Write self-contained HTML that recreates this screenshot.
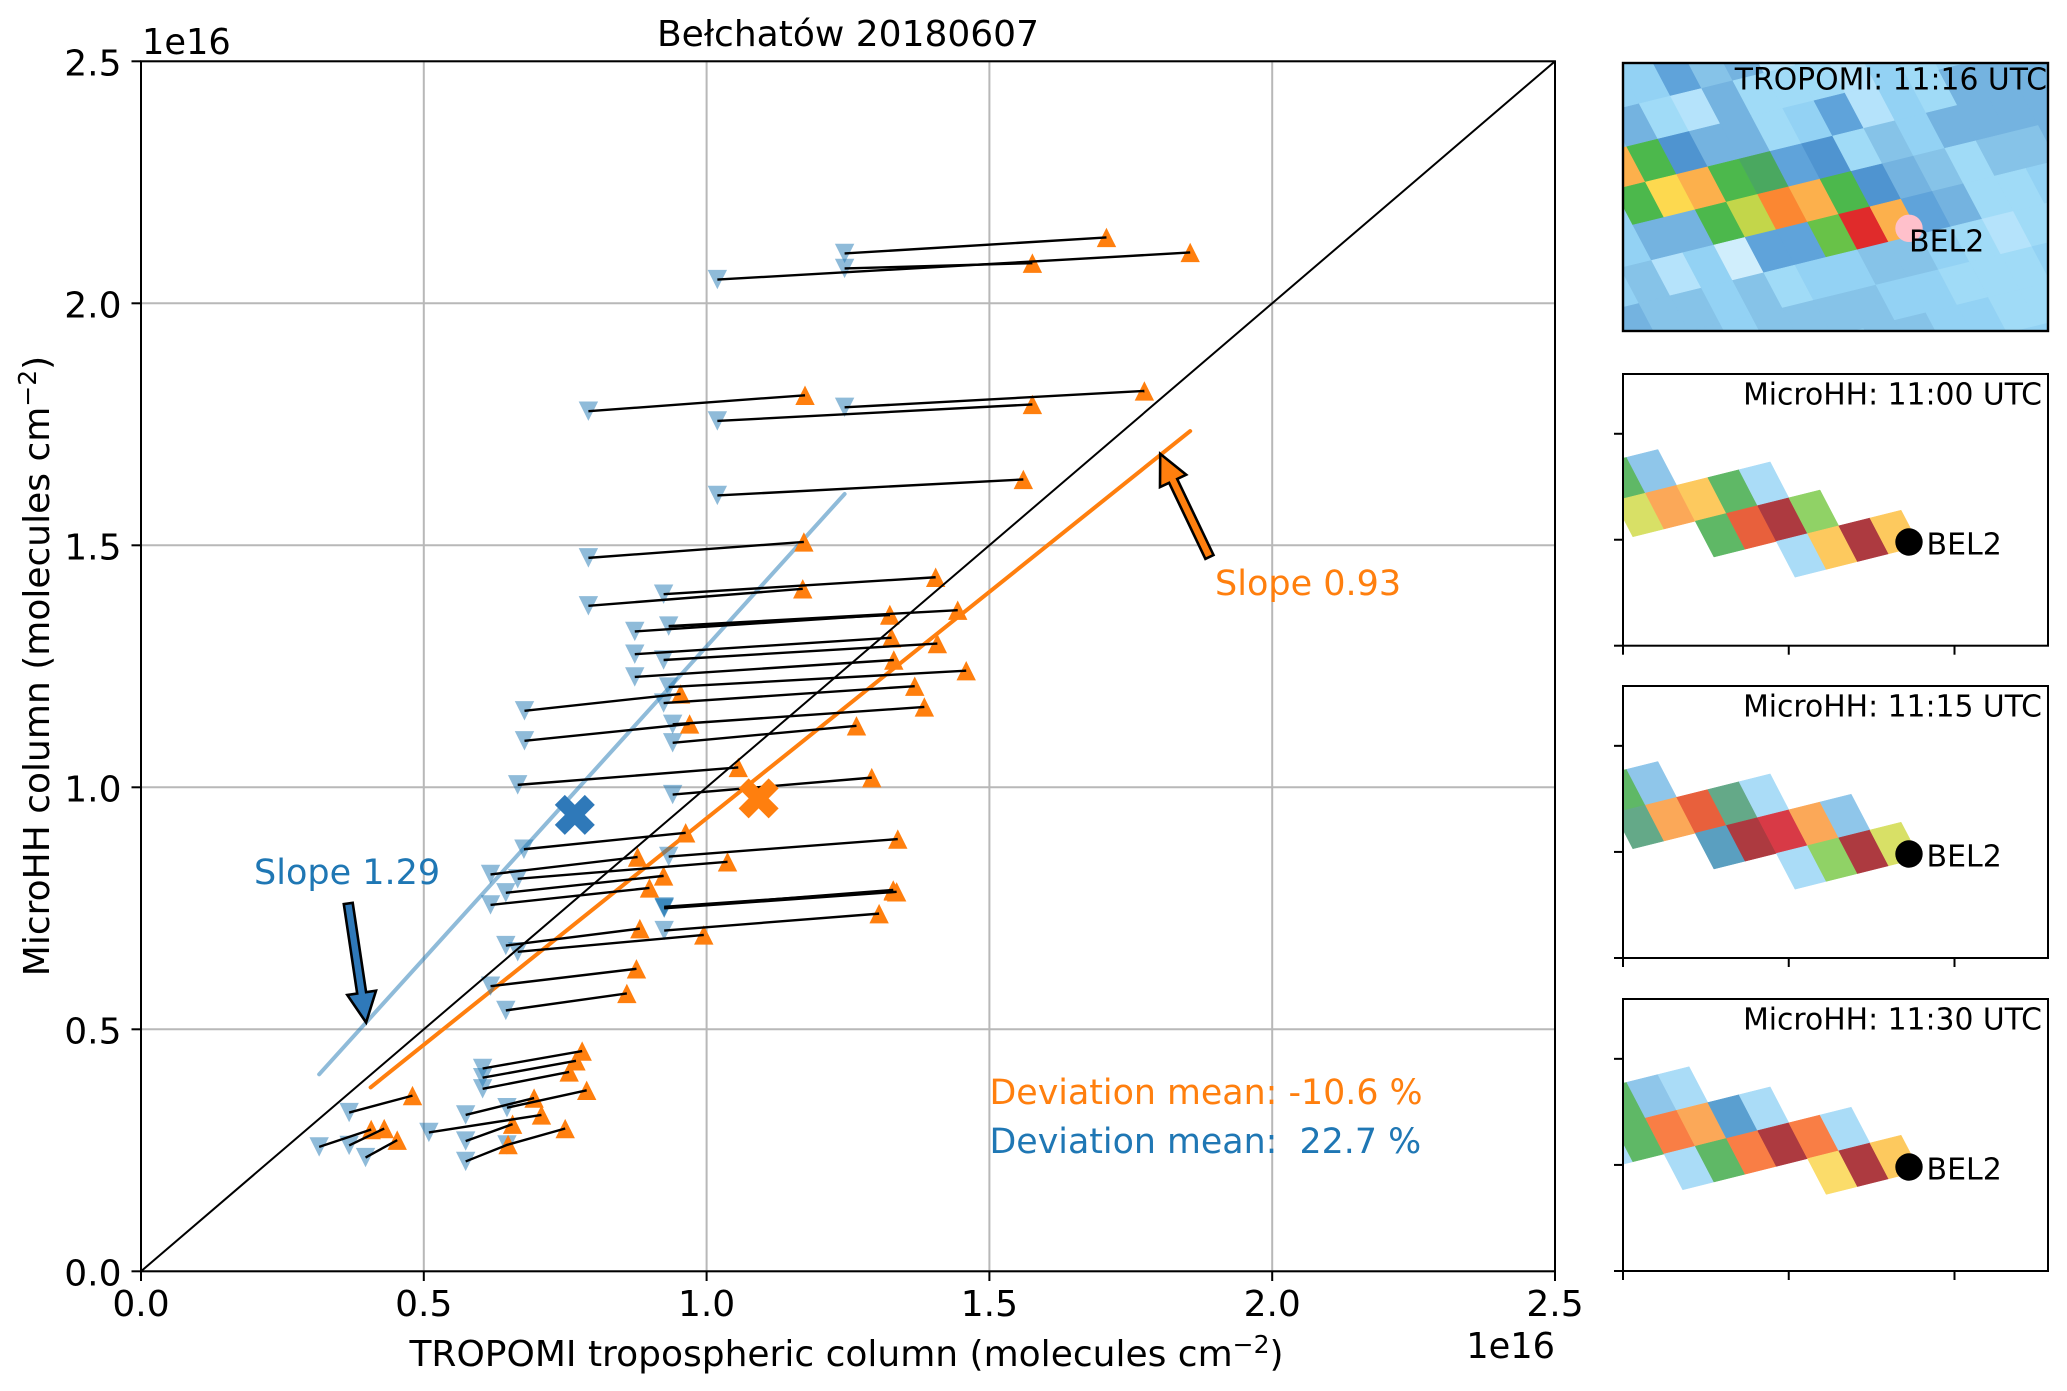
<!DOCTYPE html>
<html lang="en">
<head>
<meta charset="utf-8">
<title>Bełchatów 20180607</title>
<style>
html,body{margin:0;padding:0;background:#fff;}
svg{display:block;}
text{font-family:"DejaVu Sans","Liberation Sans",sans-serif;fill:#000;white-space:pre;}
</style>
</head>
<body>
<svg id="figure" xmlns="http://www.w3.org/2000/svg" width="2067" height="1391" viewBox="0 0 2067 1391">
  <defs>
    <clipPath id="main-clip"><rect x="141" y="61.3" width="1414" height="1210"/></clipPath>
    <clipPath id="clip-p0"><rect x="1623" y="63" width="425" height="268"/></clipPath>
    <clipPath id="clip-p1"><rect x="1623" y="374" width="425" height="271.7"/></clipPath>
    <clipPath id="clip-p2"><rect x="1623" y="686" width="425" height="272"/></clipPath>
    <clipPath id="clip-p3"><rect x="1623" y="999" width="425" height="272"/></clipPath>
  </defs>
  <g id="grid"></g>
  <g id="main-marks" clip-path="url(#main-clip)"></g>
  <rect x="141" y="61.3" width="1414" height="1210" fill="none" stroke="#000" stroke-width="2"/>
  <g id="ticks"></g>

  <text x="848" y="46" font-size="36" text-anchor="middle">Bełchatów 20180607</text>
  <text x="142" y="54" font-size="35.2">1e16</text>
  <text x="1555" y="1358" font-size="35.2" text-anchor="end">1e16</text>
  <text x="846.5" y="1366" font-size="36" text-anchor="middle">TROPOMI tropospheric column (molecules cm<tspan dy="-13" font-size="25">−2</tspan><tspan dy="13">)</tspan></text>
  <text transform="translate(49 666) rotate(-90)" font-size="36" text-anchor="middle">MicroHH column (molecules cm<tspan dy="-13" font-size="25">−2</tspan><tspan dy="13">)</tspan></text>

  <text x="254" y="884" font-size="35" style="fill:#1f77b4">Slope 1.29</text>
  <text x="1215" y="595" font-size="35" style="fill:#ff7f0e">Slope 0.93</text>
  <text x="989.5" y="1104" font-size="34.8" style="fill:#ff7f0e">Deviation mean: -10.6 %</text>
  <text x="989.5" y="1153" font-size="34.8" style="fill:#1f77b4">Deviation mean:  22.7 %</text>

  <g id="panels"></g>
</svg>

<script>
// ---------- main scatter data (units of 1e16 molecules cm-2) ----------
const tropomiBeforeX = [1.244,1.244,1.019,0.791,1.019,1.244,1.019,0.791,0.791,0.924,0.873,0.933,0.933,0.873,0.924,0.873,0.933,0.924,0.678,0.940,0.678,0.940,0.666,0.940,0.677,0.933,0.618,0.666,0.645,0.618,0.925,0.925,0.925,0.925,0.645,0.666,0.618,0.645,0.368,0.315,0.368,0.397,0.604,0.604,0.604,0.574,0.647,0.509,0.574,0.574,0.647];
const microhhBeforeY = [2.103,2.072,2.049,1.777,1.757,1.785,1.603,1.474,1.375,1.399,1.322,1.333,1.332,1.275,1.263,1.228,1.207,1.174,1.158,1.130,1.096,1.092,1.005,0.985,0.872,0.857,0.820,0.811,0.782,0.757,0.751,0.750,0.753,0.704,0.673,0.660,0.589,0.539,0.328,0.257,0.260,0.235,0.419,0.400,0.377,0.323,0.338,0.287,0.269,0.227,0.261];
const tropomiAfterX = [1.707,1.576,1.855,1.174,1.576,1.774,1.560,1.172,1.170,1.405,1.324,1.444,1.324,1.327,1.408,1.331,1.459,1.368,0.954,1.385,0.970,1.265,1.056,1.292,0.963,1.338,0.878,1.037,0.924,0.899,1.330,1.336,1.330,1.305,0.882,0.995,0.876,0.859,0.480,0.407,0.430,0.453,0.780,0.769,0.757,0.695,0.788,0.708,0.657,0.649,0.750];
const microhhAfterY = [2.136,2.083,2.105,1.810,1.791,1.819,1.636,1.507,1.410,1.434,1.357,1.366,1.356,1.309,1.297,1.263,1.241,1.209,1.193,1.166,1.131,1.127,1.041,1.020,0.906,0.893,0.856,0.846,0.817,0.792,0.788,0.784,0.786,0.739,0.708,0.695,0.625,0.574,0.363,0.293,0.295,0.271,0.455,0.435,0.412,0.358,0.374,0.323,0.304,0.262,0.295];
const sharedBeforeMarkers = [12];
const tickValues = [0,0.5,1,1.5,2,2.5];
const tickLabels = ['0.0','0.5','1.0','1.5','2.0','2.5'];
const identityLine = [0,2.5];
const fitBlueX = [0.315,1.244];
const fitBlueY = [0.407,1.606];
const fitOrangeX = [0.406,1.855];
const fitOrangeY = [0.380,1.736];
const meanBlue = [0.767,0.943];
const meanOrange = [1.092,0.977];
const arrowBlueTail = [0.3665,0.760];
const arrowBlueTip = [0.398,0.514];
const arrowOrangeTail = [1.889,1.476];
const arrowOrangeTip = [1.802,1.689];

// ---------- map panels: palette levels by lattice row / column ----------
const cellPalette = ['#d0eefc','#b5e3fb','#a0dbf7','#93d2f4','#86c3e8','#74b3e0','#5fa3da','#4f94d0','#68c248','#4cb84c','#4aa860','#c3d64a','#fdd94f','#fcb04c','#fb8732','#e02b2b','#aadcf7','#8fc6ea','#5a9fc0','#64a988','#5fb866','#90d266','#d8e066','#fbdc6a','#fdc95e','#fba858','#f97e45','#e8603c','#d83a46','#ad3a40','#5a9fd0'];
const _ = null;
// columns run i = -3..13, rows j = -2..6
const tropomiGrid = [
  [_,_,_,3,3,6,4,5,1,_,_,_,_,_,_,_,_],
  [_,_,4,5,2,1,5,2,2,2,1,3,2,_,_,_,_],
  [_,_,13,9,7,5,5,2,3,6,1,3,2,5,5,5,5],
  [_,_,9,12,13,9,10,6,7,2,4,3,5,5,5,5,5],
  [_,3,5,5,9,11,14,13,9,7,5,4,2,4,4,5,5],
  [_,4,1,3,0,6,6,8,15,13,6,5,2,2,3,3,3],
  [5,4,4,3,4,2,3,3,4,4,3,2,1,2,2,2,2],
  [4,4,4,3,4,4,4,4,3,3,2,2,2,3,3,3,3],
  [_,_,_,_,_,_,_,4,4,3,3,2,2,3,3,3,3]
];
// columns run i = -2..6, rows j = 0..3
const microhh1100 = [
  [_,20,17,_,_,_,_,_,_],
  [_,22,25,24,20,16,_,_,_],
  [_,_,_,20,27,29,21,_,_],
  [_,_,_,_,_,16,24,29,24]
];
const microhh1115 = [
  [_,20,17,_,_,_,_,_,_],
  [_,19,25,27,19,16,_,_,_],
  [_,_,_,18,29,28,25,17,_],
  [_,_,_,_,_,16,21,29,22]
];
const microhh1130 = [
  [_,20,17,16,_,_,_,_,_],
  [16,20,26,25,30,16,_,_,_],
  [_,_,16,20,26,29,26,16,_],
  [_,_,_,_,_,_,23,29,24]
];
const panelTickFractions = [0,0.39,0.78];
const panelXTickFractions = [0,0.39,0.78];

// ---------- scales ----------
const NS = 'http://www.w3.org/2000/svg';
const xScale = v => 141 + v * 565.6;
const yScale = v => 1271.3 - v * 484;

function make(tag, attrs, parent, txt) {
  const el = document.createElementNS(NS, tag);
  for (const k in attrs) el.setAttribute(k, attrs[k]);
  if (txt !== undefined) el.textContent = txt;
  parent.appendChild(el);
  return el;
}
const gridG = document.getElementById('grid');
const ticksG = document.getElementById('ticks');
const marks = document.getElementById('main-marks');
const panels = document.getElementById('panels');

// ---------- grid + ticks ----------
tickValues.forEach((v, i) => {
  const gx = make('line', {x1:xScale(v),x2:xScale(v),y1:yScale(0),y2:yScale(2.5),stroke:'#b8b8b8','stroke-width':2}, gridG);
  
  
  const gy = make('line', {x1:xScale(0),x2:xScale(2.5),y1:yScale(v),y2:yScale(v),stroke:'#b8b8b8','stroke-width':2}, gridG);
  
  
  const tx = make('line', {x1:xScale(v),x2:xScale(v),y1:1271.3,y2:1281,stroke:'#000','stroke-width':2}, ticksG);
  
  
  const ty = make('line', {x1:131.5,x2:141,y1:yScale(v),y2:yScale(v),stroke:'#000','stroke-width':2}, ticksG);
  
  
  const lx = make('text', {x:xScale(v),y:1316,'font-size':36,'text-anchor':'middle'}, ticksG, tickLabels[i]);
  
  
  const ly = make('text', {x:121.5,y:yScale(v)+14,'font-size':36,'text-anchor':'end'}, ticksG, tickLabels[i]);
  
  
});

// ---------- fit lines ----------
const fitB = make('line', {x1:xScale(fitBlueX[0]),y1:yScale(fitBlueY[0]),x2:xScale(fitBlueX[1]),y2:yScale(fitBlueY[1]),stroke:'#1f77b4','stroke-opacity':0.5,'stroke-width':4,'stroke-linecap':'round'}, marks);


const fitO = make('line', {x1:xScale(fitOrangeX[0]),y1:yScale(fitOrangeY[0]),x2:xScale(fitOrangeX[1]),y2:yScale(fitOrangeY[1]),stroke:'#ff7f0e','stroke-width':4,'stroke-linecap':'round'}, marks);



// ---------- markers ----------
const triSize = 9.7;
tropomiBeforeX.forEach((_v, i) => {
  if (sharedBeforeMarkers.includes(i)) return;
  const bx = xScale(tropomiBeforeX[i]), by = yScale(microhhBeforeY[i]);
  const t = make('polygon', {points:`${bx-triSize},${by-triSize} ${bx+triSize},${by-triSize} ${bx},${by+triSize}`,fill:'#1f77b4','fill-opacity':0.5}, marks);
  
  
});
tropomiAfterX.forEach((_v, i) => {
  const ax = xScale(tropomiAfterX[i]), ay = yScale(microhhAfterY[i]);
  const t = make('polygon', {points:`${ax-triSize},${ay+triSize} ${ax+triSize},${ay+triSize} ${ax},${ay-triSize}`,fill:'#ff7f0e'}, marks);
  
  
});

// ---------- identity line ----------
const idl = make('line', {x1:xScale(identityLine[0]),y1:yScale(identityLine[0]),x2:xScale(identityLine[1]),y2:yScale(identityLine[1]),stroke:'#000','stroke-width':2}, marks);



// ---------- connecting lines ----------
tropomiBeforeX.forEach((_v, i) => {
  const l = make('line', {x1:xScale(tropomiBeforeX[i]),y1:yScale(microhhBeforeY[i]),x2:xScale(tropomiAfterX[i]),y2:yScale(microhhAfterY[i]),stroke:'#000','stroke-width':2.4}, marks);
  
  
});

// ---------- mean crosses ----------
function crossPoints(c) {
  const x = xScale(c[0]), y = yScale(c[1]), s = 10;
  const shape = [[-1,-2],[0,-1],[1,-2],[2,-1],[1,0],[2,1],[1,2],[0,1],[-1,2],[-2,1],[-1,0],[-2,-1]];
  return shape.map(p => `${x+p[0]*s},${y+p[1]*s}`).join(' ');
}
const mB = make('polygon', {points:crossPoints(meanBlue),fill:'#2f79b9'}, marks);


const mO = make('polygon', {points:crossPoints(meanOrange),fill:'#ff7f0e'}, marks);



// ---------- annotation arrows ----------
function arrowPoints(tail, tip) {
  const x0 = xScale(tail[0]), y0 = yScale(tail[1]), x1 = xScale(tip[0]), y1 = yScale(tip[1]);
  const len = Math.hypot(x1-x0, y1-y0), ux = (x1-x0)/len, uy = (y1-y0)/len, nx = -uy, ny = ux;
  const hl = 30, hw = 14.5, sw = 4.5;
  const bx = x1-ux*hl, by = y1-uy*hl;
  const pts = [[x0+nx*sw,y0+ny*sw],[bx+nx*sw,by+ny*sw],[bx+nx*hw,by+ny*hw],[x1,y1],[bx-nx*hw,by-ny*hw],[bx-nx*sw,by-ny*sw],[x0-nx*sw,y0-ny*sw]];
  return pts.map(p => p[0].toFixed(1)+','+p[1].toFixed(1)).join(' ');
}
const aB = make('polygon', {points:arrowPoints(arrowBlueTail,arrowBlueTip),fill:'#2f79b9',stroke:'#000','stroke-width':2.6,'stroke-linejoin':'miter'}, marks);


const aO = make('polygon', {points:arrowPoints(arrowOrangeTail,arrowOrangeTip),fill:'#ff7f0e',stroke:'#000','stroke-width':2.6,'stroke-linejoin':'miter'}, marks);



// ---------- map panels ----------
function drawCells(group, grid, iStart, jStart, ox, oy, u, v) {
  grid.forEach((row, r) => row.forEach((val, c) => {
    if (val === null) return;
    const i = c + iStart, j = r + jStart;
    const px = (a, b) => (ox + a*u[0] + b*v[0]).toFixed(1) + ',' + (oy + a*u[1] + b*v[1]).toFixed(1);
    const color = cellPalette[val];
    const p = make('polygon', {points:[px(i,j),px(i+1,j),px(i+1,j+1),px(i,j+1)].join(' '),fill:color,stroke:color,'stroke-width':0.5}, group);
    
    
  }));
}

// TROPOMI panel
(function () {
  const g = make('g', {}, panels);
  
  
  const c = make('g', {'clip-path':'url(#clip-p0)'}, g);
  
  
  const bg = make('rect', {x:1623,y:63,width:425,height:268,fill:'#93d2f4'}, c);
  
  
  drawCells(c, tropomiGrid, -3, -2, 1626.7, 146.7, [31.2,-7.67], [18.67,35.33]);
  const fr = make('rect', {x:1623,y:63,width:425,height:268,fill:'none',stroke:'#000','stroke-width':2.4}, g);
  
  
  const t = make('text', {x:2047,y:89.3,'font-size':29.8,'text-anchor':'end'}, g, 'TROPOMI: 11:16 UTC');
  
  
  const s = make('circle', {cx:1909,cy:228.3,r:13.7,fill:'#ffc0cb'}, g);
  
  
  const l = make('text', {x:1909,y:251.7,'font-size':30}, g, 'BEL2');
  
  
})();

// MicroHH panels
const panelTops = [374,686,999];
const panelHeights = [271.7,272,272];
const panelGrids = [microhh1100, microhh1115, microhh1130];
const panelTitles = ['MicroHH: 11:00 UTC','MicroHH: 11:15 UTC','MicroHH: 11:30 UTC'];
panelTops.forEach((top, k) => {
  const h = panelHeights[k];
  const g = make('g', {}, panels);
  
  
  const c = make('g', {'clip-path':`url(#clip-p${k+1})`}, g);
  
  
  drawCells(c, panelGrids[k], -2, 0, 1626.7, top + 83.3, [31.2,-7.8], [18.67,35.83]);
  const fr = make('rect', {x:1623,y:top,width:425,height:h,fill:'none',stroke:'#000','stroke-width':2}, g);
  
  
  panelTickFractions.forEach(f => {
    const y = top + h - f * h;
    const t = make('line', {x1:1614,x2:1623,y1:y,y2:y,stroke:'#000','stroke-width':2}, g);
    
    
  });
  panelXTickFractions.forEach(f => {
    const x = 1623 + f * 425;
    const t = make('line', {x1:x,x2:x,y1:top+h,y2:top+h+9,stroke:'#000','stroke-width':2}, g);
    
    
  });
  const tt = make('text', {x:2042,y:top+30.3,'font-size':29.8,'text-anchor':'end'}, g, panelTitles[k]);
  
  
  const s = make('circle', {cx:1909,cy:top+168,r:13.7,fill:'#000'}, g);
  
  
  const l = make('text', {x:1926.5,y:top+180.7,'font-size':30}, g, 'BEL2');
  
  
});
</script>
</body>
</html>
